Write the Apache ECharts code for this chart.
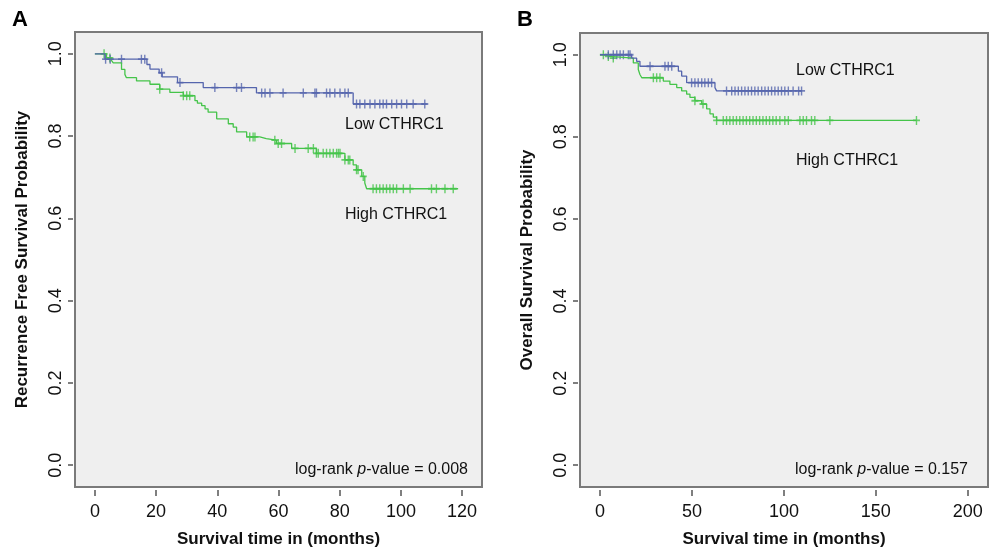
<!DOCTYPE html>
<html>
<head>
<meta charset="utf-8">
<script src="https://cdn.jsdelivr.net/npm/echarts@6/dist/echarts.min.js"></script>
<style>
  html, body { margin: 0; padding: 0; background: #fff; }
  #main { width: 991px; height: 553px; }
</style>
</head>
<body>
<div id="main"></div>
<script>
// tick labels
var xTicksA = [0, 20, 40, 60, 80, 100, 120];
var xTicksB = [0, 50, 100, 150, 200];
var yTicks = [0, 0.2, 0.4, 0.6, 0.8, 1.0];

// Panel A - recurrence free survival (step times / survival after the step)
var lowA_t = [0, 3.3, 17, 18, 21, 22, 27, 35.4, 52.8, 84.4, 108.4];
var lowA_s = [1.0, 0.987, 0.974, 0.963, 0.954, 0.944, 0.930, 0.918, 0.905, 0.878, 0.878];
var highA_t = [0, 3.8, 5.4, 6, 8.7, 9.8, 10.3, 13.6, 18, 21.2, 24.5, 28.9, 32.7, 33.5, 34.9, 36, 37,
  39.8, 43.6, 45.2, 46.3, 49.6, 53.9, 56, 59.3, 64.3, 72.4, 81.7, 84.4, 85.5, 87.2, 88.2, 88.8, 118.7];
var highA_s = [1.0, 0.99, 0.984, 0.978, 0.962, 0.95, 0.942, 0.934, 0.926, 0.914, 0.906, 0.898, 0.886, 0.88, 0.874, 0.866, 0.858,
  0.842, 0.83, 0.822, 0.81, 0.798, 0.794, 0.79, 0.782, 0.77, 0.758, 0.742, 0.73, 0.718, 0.702, 0.686, 0.672, 0.672];
// censored times
var lowA_c = [3.5, 5, 8.7, 15.2, 16.3, 21.8, 27.8, 39.2, 46.3, 47.9, 54.5, 55.6, 57.2, 61.5, 68.1, 71.9, 72.4,
  75.7, 76.8, 78.4, 80.1, 81.7, 82.8, 85.5, 86.6, 88.2, 89.9, 91.5, 93.1, 94.2, 95.3, 97, 98.6, 100.2, 101.9, 104, 107.8];
var highA_c = [3, 4.9, 21.2, 28.9, 30, 31, 50.6, 51.7, 52.3, 58.8, 59.9, 61, 65.4, 69.7, 71.4, 72.4, 73, 74.6, 75.7,
  76.8, 77.9, 79, 79.6, 80.1, 81.7, 82.8, 83.3, 85.5, 86, 87.7, 90.9, 92, 93.1, 94.2, 95.3, 96.4, 97.5, 98.6,
  100.8, 103, 110, 111.6, 114.4, 117.1];

// Panel B - overall survival
var lowB_t = [0, 17.2, 19.9, 21.7, 42.6, 44.4, 47.1, 62.5, 63.4, 109.6];
var lowB_s = [1.0, 0.992, 0.984, 0.972, 0.96, 0.948, 0.932, 0.92, 0.912, 0.912];
var highB_t = [0, 3.6, 5.4, 18.1, 20.8, 21.7, 22.7, 34.4, 38, 41.7, 44.4, 47.1, 48.9, 51.6, 55.3, 58, 59.8, 61.6, 63.4, 172.1];
var highB_s = [1.0, 0.996, 0.992, 0.98, 0.964, 0.952, 0.944, 0.936, 0.928, 0.92, 0.912, 0.904, 0.896, 0.888, 0.88, 0.868, 0.856, 0.848, 0.84, 0.84];
var lowB_c = [4.5, 7.2, 9.1, 10.9, 12.7, 15.4, 16.3, 27.2, 35.3, 37.1, 39, 49.8, 51.6, 53.4, 55.3, 57, 58.9, 60.7,
  68.8, 71.6, 73.4, 75.2, 77, 78.8, 80.6, 82.4, 84.2, 86, 87.9, 89.7, 91.5, 93.3, 95.1, 96.9, 98.7, 100.5, 102.4, 105, 108, 109.6];
var highB_c = [1.8, 4.5, 7.2, 29, 30.8, 32.6, 51.6, 56, 63.4, 67, 68.8, 70.6, 72.4, 74.2, 76, 77.8, 79.6, 81.4, 83.2,
  85, 86.8, 88.6, 90.4, 92.2, 94, 95.8, 97.8, 100.5, 102.4, 108.7, 110.5, 112.3, 115, 116.8, 125, 172.1];

var BLUE = '#5565ad';
var GREEN = '#45c44a';
var FONT = '"Liberation Sans", Arial, sans-serif';
var PLUS = 'path://M2,0H3V2H5V3H3V5H2V3H0V2H2Z';

function pairs(t, s) {
    return t.map(function (v, i) { return [v, s[i]]; });
}
// survival value of a step curve at time x (for censor marks)
function censorPts(c, t, s) {
    return c.map(function (x) {
        var v = s[0];
        for (var i = 0; i < t.length; i++) { if (t[i] <= x) v = s[i]; }
        return [x, v];
    });
}

function xAxisCfg(idx, min, max, ticks) {
    return {
        gridIndex: idx, type: 'value', min: min, max: max,
        axisLine: { show: false, onZero: false }, splitLine: { show: false },
        offset: 3,
        axisTick: { customValues: ticks, length: 6, lineStyle: { color: '#555', width: 1.5 } },
        axisLabel: { customValues: ticks, fontSize: 18, color: '#111', margin: 13, fontFamily: FONT },
        name: 'Survival time in (months)', nameLocation: 'middle', nameGap: 41,
        nameTextStyle: { fontWeight: 'bold', fontSize: 17, color: '#111', fontFamily: FONT }
    };
}
function yAxisCfg(idx, name) {
    return {
        gridIndex: idx, type: 'value', min: -0.053, max: 1.053,
        axisLine: { show: false, onZero: false }, splitLine: { show: false },
        offset: 2,
        axisTick: { customValues: yTicks, length: 5, lineStyle: { color: '#555', width: 1.5 } },
        axisLabel: {
            customValues: yTicks, fontSize: 18, color: '#111', rotate: 90, margin: 8, fontFamily: FONT,
            formatter: function (v) { return v.toFixed(1); }
        },
        name: name, nameLocation: 'middle', nameRotate: 90, nameGap: 42,
        nameTextStyle: { fontWeight: 'bold', fontSize: 17, color: '#111', fontFamily: FONT }
    };
}
function stepSeries(idx, data, color) {
    return { type: 'line', xAxisIndex: idx, yAxisIndex: idx, data: data, step: 'end',
        symbol: 'none', lineStyle: { color: color, width: 1.3 }, silent: true };
}
function censorSeries(idx, data, color) {
    return { type: 'scatter', xAxisIndex: idx, yAxisIndex: idx, data: data, symbol: PLUS,
        symbolSize: [7, 9], itemStyle: { color: color }, silent: true };
}

var chart = echarts.init(document.getElementById('main'));
chart.setOption({
    backgroundColor: '#fff',
    animation: false,
    textStyle: { fontFamily: FONT },
    grid: [
        { left: 75, top: 32, right: 509, bottom: 60, show: true, backgroundColor: '#efefef', borderColor: '#7a7a7a', borderWidth: 2 },
        { left: 580, top: 33, right: 3, bottom: 59, show: true, backgroundColor: '#efefef', borderColor: '#7a7a7a', borderWidth: 2 }
    ],
    xAxis: [xAxisCfg(0, -6.5, 126.5, xTicksA), xAxisCfg(1, -10.9, 211, xTicksB)],
    yAxis: [yAxisCfg(0, 'Recurrence Free Survival Probability'), yAxisCfg(1, 'Overall Survival Probability')],
    series: [
        stepSeries(0, pairs(highA_t, highA_s), GREEN),
        stepSeries(0, pairs(lowA_t, lowA_s), BLUE),
        censorSeries(0, censorPts(highA_c, highA_t, highA_s), GREEN),
        censorSeries(0, censorPts(lowA_c, lowA_t, lowA_s), BLUE),
        stepSeries(1, pairs(highB_t, highB_s), GREEN),
        stepSeries(1, pairs(lowB_t, lowB_s), BLUE),
        censorSeries(1, censorPts(highB_c, highB_t, highB_s), GREEN),
        censorSeries(1, censorPts(lowB_c, lowB_t, lowB_s), BLUE)
    ],
    graphic: [
        { type: 'text', left: 12, top: 9, style: { text: 'A', fontSize: 22, fontWeight: 'bold', fill: '#000', fontFamily: FONT } },
        { type: 'text', left: 517, top: 9, style: { text: 'B', fontSize: 22, fontWeight: 'bold', fill: '#000', fontFamily: FONT } },
        { type: 'text', left: 345, top: 117, style: { text: 'Low CTHRC1', fontSize: 16, fill: '#111', fontFamily: FONT } },
        { type: 'text', left: 345, top: 207, style: { text: 'High CTHRC1', fontSize: 16, fill: '#111', fontFamily: FONT } },
        { type: 'text', left: 796, top: 63, style: { text: 'Low CTHRC1', fontSize: 16, fill: '#111', fontFamily: FONT } },
        { type: 'text', left: 796, top: 153, style: { text: 'High CTHRC1', fontSize: 16, fill: '#111', fontFamily: FONT } },
        { type: 'text', right: 523, top: 462, style: {
            text: '{a|log-rank }{i|p}{a|-value = 0.008}',
            rich: { a: { fontSize: 16, fill: '#111', fontFamily: FONT }, i: { fontSize: 16, fontStyle: 'italic', fill: '#111', fontFamily: FONT } } } },
        { type: 'text', right: 23, top: 462, style: {
            text: '{a|log-rank }{i|p}{a|-value = 0.157}',
            rich: { a: { fontSize: 16, fill: '#111', fontFamily: FONT }, i: { fontSize: 16, fontStyle: 'italic', fill: '#111', fontFamily: FONT } } } }
    ]
});
</script>
</body>
</html>
